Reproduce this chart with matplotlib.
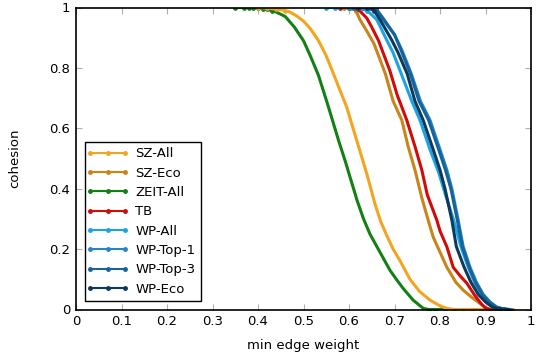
import matplotlib
matplotlib.use("Agg")
import matplotlib.pyplot as plt

labels = ["SZ-All", "SZ-Eco", "ZEIT-All", "TB", "WP-All", "WP-Top-1", "WP-Top-3", "WP-Eco"]
colors = ["#f2a51f", "#c9841a", "#138013", "#d10a0a", "#1ca3e6", "#2386c6", "#17639a", "#0c3a5c"]

sz_all_x = [0.40, 0.42, 0.44, 0.46, 0.47, 0.485, 0.50, 0.515, 0.533, 0.55, 0.566, 0.595, 0.617, 0.639, 0.657,
            0.67, 0.683, 0.697, 0.712, 0.734, 0.755, 0.778, 0.80, 0.815, 0.83, 0.85, 0.87, 0.89, 0.92, 0.94, 0.96]
sz_all_y = [1.0, 0.998, 0.995, 0.99, 0.985, 0.972, 0.955, 0.93, 0.89, 0.84, 0.78, 0.67, 0.56, 0.45, 0.35,
            0.29, 0.245, 0.20, 0.162, 0.10, 0.06, 0.031, 0.012, 0.004, 0.0, 0.0, 0.0, 0.0, 0.0, 0.0, 0.0]

sz_eco_x = [0.59, 0.605, 0.615, 0.624, 0.64, 0.655, 0.68, 0.697, 0.716, 0.73, 0.745, 0.76, 0.774, 0.785, 0.80,
            0.815, 0.835, 0.851, 0.87, 0.888, 0.90, 0.91]
sz_eco_y = [1.0, 0.998, 0.99, 0.96, 0.92, 0.88, 0.78, 0.69, 0.627, 0.54, 0.462, 0.37, 0.296, 0.24, 0.19,
            0.14, 0.09, 0.064, 0.04, 0.02, 0.006, 0.0]

zeit_x = [0.35, 0.37, 0.38, 0.39, 0.40, 0.41, 0.42, 0.43, 0.44, 0.46, 0.48, 0.50, 0.515, 0.533, 0.555,
          0.577, 0.592, 0.606, 0.618, 0.632, 0.646, 0.668, 0.69, 0.705, 0.72, 0.741, 0.763, 0.775, 0.79, 0.81, 0.83]
zeit_y = [1.0, 1.0, 1.0, 1.0, 0.998, 0.996, 0.994, 0.99, 0.985, 0.97, 0.935, 0.89, 0.84, 0.775, 0.67,
          0.56, 0.49, 0.42, 0.36, 0.30, 0.25, 0.19, 0.13, 0.098, 0.068, 0.031, 0.004, 0.0, 0.0, 0.0, 0.0]

tb_x = [0.58, 0.60, 0.62, 0.639, 0.65, 0.665, 0.69, 0.706, 0.727, 0.745, 0.76, 0.772, 0.793, 0.80, 0.815,
        0.829, 0.845, 0.859, 0.875, 0.89, 0.90, 0.91]
tb_y = [1.0, 1.0, 0.995, 0.965, 0.935, 0.89, 0.79, 0.71, 0.627, 0.54, 0.462, 0.38, 0.296, 0.26, 0.208,
        0.14, 0.11, 0.087, 0.05, 0.02, 0.005, 0.0]

wp_all_x = [0.55, 0.57, 0.60, 0.62, 0.64, 0.661, 0.683, 0.697, 0.715, 0.738, 0.756, 0.778, 0.798, 0.812, 0.83,
            0.846, 0.862, 0.876, 0.89, 0.905, 0.92, 0.935, 0.945]
wp_all_y = [1.0, 1.0, 1.0, 0.998, 0.99, 0.96, 0.892, 0.85, 0.78, 0.69, 0.627, 0.53, 0.45, 0.38, 0.296,
            0.208, 0.14, 0.09, 0.05, 0.025, 0.008, 0.001, 0.0]

wp_top1_x = [0.60, 0.63, 0.655, 0.675, 0.70, 0.716, 0.737, 0.757, 0.778, 0.80, 0.815, 0.826, 0.840, 0.851,
             0.866, 0.88, 0.895, 0.91, 0.925, 0.94, 0.955]
wp_top1_y = [1.0, 1.0, 0.995, 0.96, 0.91, 0.86, 0.78, 0.69, 0.627, 0.53, 0.462, 0.40, 0.296, 0.208,
             0.14, 0.09, 0.05, 0.025, 0.008, 0.002, 0.0]

wp_top3_x = [0.61, 0.64, 0.66, 0.677, 0.70, 0.714, 0.735, 0.754, 0.775, 0.797, 0.812, 0.824, 0.838, 0.849,
             0.864, 0.878, 0.893, 0.908, 0.923, 0.938, 0.952]
wp_top3_y = [1.0, 1.0, 0.995, 0.96, 0.91, 0.86, 0.78, 0.69, 0.627, 0.53, 0.462, 0.40, 0.296, 0.208,
             0.14, 0.09, 0.05, 0.025, 0.008, 0.002, 0.0]

wp_eco_x = [0.62, 0.64, 0.655, 0.668, 0.694, 0.708, 0.728, 0.745, 0.763, 0.785, 0.80, 0.811, 0.826, 0.836,
            0.853, 0.868, 0.884, 0.90, 0.915, 0.93, 0.95]
wp_eco_y = [1.0, 1.0, 0.99, 0.96, 0.892, 0.85, 0.78, 0.69, 0.627, 0.53, 0.462, 0.40, 0.296, 0.208,
            0.14, 0.09, 0.05, 0.025, 0.008, 0.001, 0.0]

series = [
    (sz_all_x, sz_all_y),
    (sz_eco_x, sz_eco_y),
    (zeit_x, zeit_y),
    (tb_x, tb_y),
    (wp_all_x, wp_all_y),
    (wp_top1_x, wp_top1_y),
    (wp_top3_x, wp_top3_y),
    (wp_eco_x, wp_eco_y),
]

x_ticks = [0, 0.1, 0.2, 0.3, 0.4, 0.5, 0.6, 0.7, 0.8, 0.9, 1]
x_ticklabels = ["0", "0.1", "0.2", "0.3", "0.4", "0.5", "0.6", "0.7", "0.8", "0.9", "1"]
y_ticks = [0, 0.2, 0.4, 0.6, 0.8, 1]
y_ticklabels = ["0", "0.2", "0.4", "0.6", "0.8", "1"]

plt.rcParams['font.family'] = ['DejaVu Sans']
fig = plt.figure(figsize=(5.36, 3.62), dpi=100)
ax = fig.add_axes([76/536, 1 - 309.5/362, (531 - 76)/536, (309.5 - 7.5)/362])

draw_order = [2, 0, 1, 3, 4, 5, 6, 7]
handles = [None] * len(labels)
for i in draw_order:
    xs, ys = series[i]
    flat = [k for k, v in enumerate(ys) if v >= 0.99 or v <= 0.003]
    h, = ax.plot(xs, ys, color=colors[i], lw=2.2, marker='o', markersize=2.4,
                 markevery=flat, label=labels[i], solid_joinstyle='round',
                 solid_capstyle='round')
    handles[i] = h

ax.set_xlim(0, 1)
ax.set_ylim(0, 1)
ax.set_xticks(x_ticks)
ax.set_xticklabels(x_ticklabels)
ax.set_yticks(y_ticks)
ax.set_yticklabels(y_ticklabels)
ax.tick_params(direction='in', length=4, width=0.8, color='#b0b0b0', labelsize=9.5,
               top=True, right=True, pad=4)
for s in ax.spines.values():
    s.set_linewidth(1.2)
    s.set_color('black')

ax.set_xlabel("min edge weight", fontsize=9.5, labelpad=8)
ax.set_ylabel("cohesion", fontsize=9.5, labelpad=20)

leg = ax.legend(handles=handles, labels=labels, loc='lower left', bbox_to_anchor=(0.02, 0.028),
                fontsize=9.5, frameon=True, fancybox=False, edgecolor='black', framealpha=1,
                handlelength=2.6, handletextpad=0.8, labelspacing=0.48, borderpad=0.4,
                borderaxespad=0.0)
leg.get_frame().set_linewidth(1.0)
for lh in leg.legend_handles:
    lh.set_linewidth(1.5)
    lh.set_markersize(2.5)
    lh.set_markevery(None)

fig.savefig("out.png", dpi=100)
